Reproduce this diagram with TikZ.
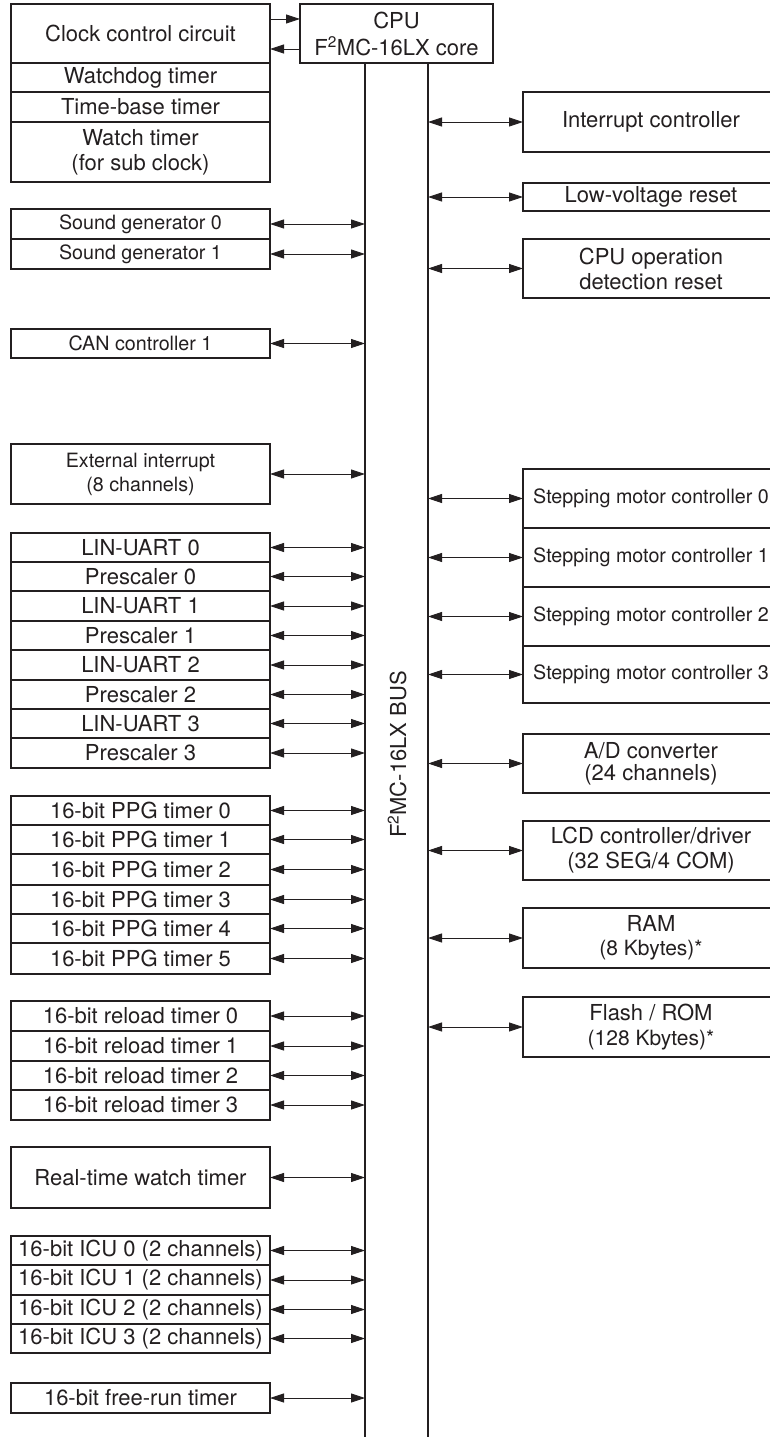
\documentclass[tikz,border=0pt]{standalone}
\usepackage{fontspec}
\setmainfont{TeX Gyre Heros}
\usetikzlibrary{arrows.meta,calc}
\definecolor{ink}{HTML}{231F20}
\newcommand\fbig{\fontsize{22}{25}\selectfont}
\newcommand\fsml{\fontsize{19.7}{24}\selectfont}
\newcommand\fmid{\fontsize{21}{24}\selectfont}
\tikzset{
  bx/.style={draw=ink, line width=1.6pt, inner sep=0pt, outer sep=0pt, align=center, text=ink, font=\fbig},
  lb/.style={bx, minimum width=259pt},
  rb/.style={bx, minimum width=256pt},
  small/.style={font=\fsml},
  link/.style={draw=ink, line width=0.9pt, {Triangle[length=14pt,width=9pt]}-{Triangle[length=14pt,width=9pt]}},
  tolink/.style={draw=ink, line width=0.9pt, -{Triangle[length=14pt,width=9pt]}},
  bus/.style={draw=ink, line width=1.6pt}
}
\begin{document}
\begin{tikzpicture}[x=1pt,y=-1pt]
\fill[white] (0,0) rectangle (769,1437);
\useasboundingbox (0,0) rectangle (769,1437);

% bus coordinates
\coordinate (busL) at (365,1440);
\coordinate (busR) at (428,1440);

% CPU
\node[bx, minimum width=193pt, minimum height=59pt] (cpu) at (396.5,33.5) {CPU\\[2pt]F\textsuperscript{2}MC-16LX core};

% left column
\node[lb, minimum height=59pt] (clk) at (140.5,33.5) {Clock control circuit};
\node[lb, minimum height=29pt] (wdt) at (140.5,77.5) {Watchdog timer};
\node[lb, minimum height=30pt] (tbt) at (140.5,107) {Time-base timer};
\node[lb, minimum height=60pt] (wt) at (140.5,152) {Watch timer\\(for sub clock)};

\node[lb, small, minimum height=30pt] (sg0) at (140.5,224) {Sound generator 0};
\node[lb, small, minimum height=30pt] (sg1) at (140.5,254) {Sound generator 1};
\node[lb, small, minimum height=29pt] (can1) at (140.5,343.5) {CAN controller 1};
\node[lb, small, minimum height=60pt] (ext) at (140.5,474) {External interrupt\\(8 channels)};

\node[lb, minimum height=29pt] (lin0) at (140.5,547.5) {LIN-UART 0};
\node[lb, minimum height=29pt] (pre0) at (140.5,576.5) {Prescaler 0};
\node[lb, minimum height=30pt] (lin1) at (140.5,606) {LIN-UART 1};
\node[lb, minimum height=29pt] (pre1) at (140.5,635.5) {Prescaler 1};
\node[lb, minimum height=30pt] (lin2) at (140.5,665) {LIN-UART 2};
\node[lb, minimum height=29pt] (pre2) at (140.5,694.5) {Prescaler 2};
\node[lb, minimum height=29pt] (lin3) at (140.5,723.5) {LIN-UART 3};
\node[lb, minimum height=30pt] (pre3) at (140.5,753) {Prescaler 3};

\node[lb, minimum height=29pt] (ppg0) at (140.5,810.5) {16-bit PPG timer 0};
\node[lb, minimum height=29pt] (ppg1) at (140.5,839.5) {16-bit PPG timer 1};
\node[lb, minimum height=31pt] (ppg2) at (140.5,869.5) {16-bit PPG timer 2};
\node[lb, minimum height=29pt] (ppg3) at (140.5,899.5) {16-bit PPG timer 3};
\node[lb, minimum height=29pt] (ppg4) at (140.5,928.5) {16-bit PPG timer 4};
\node[lb, minimum height=31pt] (ppg5) at (140.5,958.5) {16-bit PPG timer 5};

\node[lb, minimum height=30pt] (rl0) at (140.5,1016) {16-bit reload timer 0};
\node[lb, minimum height=30pt] (rl1) at (140.5,1046) {16-bit reload timer 1};
\node[lb, minimum height=29pt] (rl2) at (140.5,1075.5) {16-bit reload timer 2};
\node[lb, minimum height=30pt] (rl3) at (140.5,1105) {16-bit reload timer 3};

\node[lb, minimum height=61pt] (rtw) at (140.5,1177.5) {Real-time watch timer};

\node[lb, minimum height=29pt] (icu0) at (140.5,1250.5) {16-bit ICU 0 (2 channels)};
\node[lb, minimum height=30pt] (icu1) at (140.5,1280) {16-bit ICU 1 (2 channels)};
\node[lb, minimum height=29pt] (icu2) at (140.5,1309.5) {16-bit ICU 2 (2 channels)};
\node[lb, minimum height=29pt] (icu3) at (140.5,1338.5) {16-bit ICU 3 (2 channels)};

\node[lb, minimum height=30pt] (frt) at (140.5,1398) {16-bit free-run timer};

% right column
\node[rb, minimum height=60pt] (intc) at (651,122) {Interrupt controller};
\node[rb, minimum height=28pt] (lvr) at (651,197) {Low-voltage reset};
\node[rb, minimum height=59pt] (cpuop) at (651,268.5) {CPU operation\\detection reset};
\node[rb, small, minimum height=59pt] (sm0) at (651,498.5) {Stepping motor controller 0};
\node[rb, small, minimum height=59pt] (sm1) at (651,557.5) {Stepping motor controller 1};
\node[rb, small, minimum height=59pt] (sm2) at (651,616.5) {Stepping motor controller 2};
\node[rb, small, minimum height=57pt] (sm3) at (651,674.5) {Stepping motor controller 3};
\node[rb, minimum height=59pt] (adc) at (651,763.5) {A/D converter\\[-3pt](24 channels)};
\node[rb, minimum height=59pt] (lcd) at (651,850.5) {LCD controller/driver\\(32 SEG/4 COM)};
\node[rb, minimum height=60pt] (ram) at (651,938) {RAM\\[-1pt]{\fmid (8 Kbytes)*}};
\node[rb, minimum height=60pt] (flash) at (651,1027) {Flash / ROM\\{\fmid (128 Kbytes)*}};

% bus
\draw[bus] (cpu.south -| busL) -- (busL);
\draw[bus] (cpu.south -| busR) -- (busR);
\node[text=ink, font=\fbig, rotate=90, inner sep=0pt] (buslabel) at (397,754.5) {F\textsuperscript{2}MC-16LX BUS};

% clock <-> cpu
\draw[tolink] ($(clk.north east)!0.254!(clk.south east)$) -- ($(cpu.north west)!0.254!(cpu.south west)$);
\draw[tolink] ($(cpu.north west)!0.763!(cpu.south west)$) -- ($(clk.north east)!0.763!(clk.south east)$);

% left links
\foreach \n in {sg0,sg1,can1,ext,lin0,pre0,lin1,pre1,lin2,pre2,lin3,pre3,ppg0,ppg1,ppg2,ppg3,ppg4,ppg5,rl0,rl1,rl2,rl3,rtw,icu0,icu1,icu2,icu3,frt}
  \draw[link] (\n.east) -- (\n.east -| busL);

% right links
\foreach \n in {intc,lvr,cpuop,sm0,sm1,sm2,sm3,adc,lcd,ram,flash}
  \draw[link] (\n.west -| busR) -- (\n.west);
\end{tikzpicture}
\end{document}
